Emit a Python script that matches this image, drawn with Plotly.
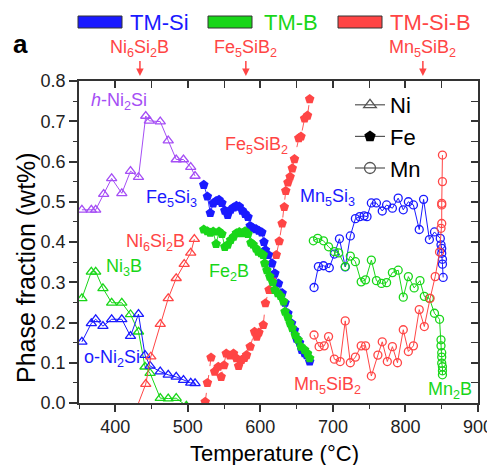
import plotly.graph_objects as go

# ---------------- data ----------------
# Ni system (triangles)
h_ni2si_T = [354, 367, 373, 384, 395, 409, 421, 432, 442, 447, 462, 473, 484, 494, 504, 510]
h_ni2si_f = [0.480, 0.480, 0.480, 0.519, 0.558, 0.521, 0.576, 0.561, 0.713, 0.701, 0.699, 0.652, 0.605, 0.605, 0.586, 0.564]

ni3b_T = [354, 367, 373, 383, 395, 409, 421, 432, 441, 448, 462, 473, 484, 498]
ni3b_f = [0.260, 0.326, 0.326, 0.285, 0.249, 0.249, 0.220, 0.177, 0.090, 0.074, 0.012, 0.011, 0.012, -0.007]

o_ni2si_T = [354, 367, 373, 383, 395, 409, 421, 432, 441, 448, 462, 473, 484, 494, 504, 510]
o_ni2si_f = [0.152, 0.198, 0.208, 0.191, 0.208, 0.208, 0.166, 0.221, 0.119, 0.092, 0.078, 0.070, 0.065, 0.057, 0.050, 0.049]

ni6si2b_T = [428, 442, 449, 462, 473, 484, 495, 504, 509]
ni6si2b_f = [-0.019, 0.047, 0.115, 0.196, 0.260, 0.310, 0.345, 0.373, 0.407]

# Fe system (pentagons)
fe5si3_T = [522, 527, 531, 535, 539, 543, 547, 551, 555, 559, 563, 567, 571, 575, 579, 583, 586, 590, 594, 598,
            602, 605, 607, 611, 616, 620, 625, 630, 634, 638, 643, 647, 650, 654, 657, 661, 664, 668]
fe5si3_f = [0.542, 0.513, 0.472, 0.496, 0.502, 0.505, 0.497, 0.478, 0.467, 0.480, 0.486, 0.490, 0.488, 0.478,
            0.470, 0.462, 0.440, 0.434, 0.432, 0.428, 0.424, 0.400, 0.380, 0.368, 0.347, 0.322, 0.297, 0.273,
            0.249, 0.223, 0.198, 0.181, 0.160, 0.150, 0.132, 0.124, 0.119, 0.103]

fe2b_T = [522, 527, 531, 535, 539, 543, 547, 551, 555, 559, 563, 567, 571, 575, 579, 583, 587, 590, 594, 597,
          601, 604, 606, 609, 613, 617, 620, 624, 628, 632, 634, 638, 641, 644, 648, 652, 656, 661, 665, 668]
fe2b_f = [0.431, 0.427, 0.423, 0.426, 0.395, 0.426, 0.420, 0.388, 0.393, 0.405, 0.413, 0.422, 0.425, 0.422,
          0.427, 0.420, 0.398, 0.394, 0.384, 0.376, 0.372, 0.368, 0.347, 0.330, 0.314, 0.300, 0.281, 0.273,
          0.266, 0.252, 0.227, 0.213, 0.198, 0.186, 0.169, 0.157, 0.140, 0.132, 0.123, 0.111]

fe5sib2_T = [524, 527, 532, 537, 542, 546, 550, 553, 558, 563, 567, 570, 574, 578, 581, 586, 592, 595, 598, 604,
             607, 612, 616, 622, 626, 630, 633, 635, 638, 641, 644, 647, 653, 656, 661, 665, 668]
fe5sib2_f = [0.003, 0.050, 0.113, 0.078, 0.090, 0.065, 0.094, 0.123, 0.118, 0.123, 0.111, 0.092, 0.107, 0.112,
             0.119, 0.140, 0.177, 0.165, 0.175, 0.194, 0.248, 0.281, 0.310, 0.368, 0.402, 0.446, 0.487, 0.527,
             0.548, 0.562, 0.583, 0.606, 0.658, 0.662, 0.707, 0.714, 0.755]

# Mn system (circles)
mn5si3_T = [674, 680, 687, 695, 702, 709, 717, 724, 731, 737, 743, 747, 753, 760, 768, 774, 782, 790, 797, 804,
            811, 819, 825, 833, 840, 848, 849, 850, 850, 851, 851, 852]
mn5si3_f = [0.287, 0.339, 0.341, 0.336, 0.370, 0.408, 0.338, 0.415, 0.458, 0.463, 0.465, 0.463, 0.497, 0.497,
            0.477, 0.492, 0.484, 0.509, 0.480, 0.500, 0.492, 0.431, 0.506, 0.406, 0.425, 0.409, 0.393, 0.384,
            0.372, 0.357, 0.345, 0.312]

mn2b_T = [673, 679, 687, 694, 702, 708, 717, 724, 731, 739, 745, 753, 760, 767, 774, 782, 790, 797, 804, 812,
          820, 826, 833, 840, 847, 849, 849, 850, 850, 850, 851, 851, 851]
mn2b_f = [0.403, 0.409, 0.403, 0.388, 0.376, 0.373, 0.339, 0.365, 0.351, 0.301, 0.306, 0.355, 0.304, 0.297,
          0.299, 0.324, 0.330, 0.263, 0.314, 0.286, 0.304, 0.265, 0.260, 0.223, 0.208, 0.157, 0.142, 0.125,
          0.114, 0.099, 0.090, 0.080, 0.070]

mn5sib2_T = [674, 681, 688, 694, 702, 710, 717, 724, 731, 739, 745, 753, 762, 768, 775, 782, 789, 797, 804, 811,
             819, 826, 834, 841, 847, 849, 850, 850, 850, 851, 851]
mn5sib2_f = [0.169, 0.140, 0.142, 0.165, 0.109, 0.103, 0.204, 0.100, 0.114, 0.142, 0.142, 0.067, 0.119, 0.152,
             0.103, 0.140, 0.100, 0.182, 0.128, 0.142, 0.232, 0.190, 0.260, 0.314, 0.375, 0.434, 0.446, 0.492,
             0.496, 0.550, 0.616]

x_ticks = [400, 500, 600, 700, 800, 900]
y_ticks = [0.0, 0.1, 0.2, 0.3, 0.4, 0.5, 0.6, 0.7, 0.8]

# ---------------- style ----------------
FONT = "Liberation Sans, Arial, sans-serif"
BLUE = "#1a1aff"
GREEN = "#19d619"
RED = "#ff4545"
PURPLE = "#a54ef5"
AX = "#333333"

# the page body adds an 8px offset, so the figure is 8px smaller and margins shifted
OFF = 8
PL, PT, PWID, PHGT = 79, 81, 399, 322          # plot area in window pixels
W_FIG, H_FIG = 495 - OFF, 465 - OFF
ML, MT = PL - OFF, PT - OFF
MR = W_FIG - ML - PWID
MB = H_FIG - MT - PHGT


def pxx(p):
    return (p - PL) / PWID


def pxy(p):
    return (PT + PHGT - p) / PHGT


fig = go.Figure()


def add(T, f, color, symbol, size, lw=1.0, dash="solid", filled=False):
    marker = dict(symbol=symbol, size=size, color=color,
                  line=dict(color=color, width=1.3 if not filled else 0))
    fig.add_trace(go.Scatter(x=T, y=f, mode="lines+markers",
                             line=dict(color=color, width=lw, dash=dash),
                             marker=marker, showlegend=False))


add(h_ni2si_T, h_ni2si_f, PURPLE, "triangle-up-open", 9)
add(ni3b_T, ni3b_f, GREEN, "triangle-up-open", 9)
add(o_ni2si_T, o_ni2si_f, BLUE, "triangle-up-open", 9)
add(ni6si2b_T, ni6si2b_f, RED, "triangle-up-open", 9)

add(fe5sib2_T, fe5sib2_f, RED, "pentagon", 10, lw=0.9, dash="dash", filled=True)
add(fe5si3_T, fe5si3_f, BLUE, "pentagon", 10, lw=0.9, filled=True)
add(fe2b_T, fe2b_f, GREEN, "pentagon", 10, lw=0.9, filled=True)

add(mn5si3_T, mn5si3_f, BLUE, "circle-open", 8)
add(mn2b_T, mn2b_f, GREEN, "circle-open", 8)
add(mn5sib2_T, mn5sib2_f, RED, "circle-open", 8)

# element legend
GR = "#555555"
fig.add_trace(go.Scatter(x=[None], y=[None], mode="lines+markers", name="Ni",
                         line=dict(color=GR, width=1.2),
                         marker=dict(symbol="triangle-up-open", size=11, color=GR, line=dict(width=1.3))))
fig.add_trace(go.Scatter(x=[None], y=[None], mode="lines+markers", name="Fe",
                         line=dict(color=GR, width=1.2),
                         marker=dict(symbol="pentagon", size=12, color="black", line=dict(width=0))))
fig.add_trace(go.Scatter(x=[None], y=[None], mode="lines+markers", name="Mn",
                         line=dict(color=GR, width=1.2),
                         marker=dict(symbol="circle-open", size=11, color=GR, line=dict(width=1.3))))

# dummy trace for mirrored (inward) top/right axes
fig.add_trace(go.Scatter(x=[None], y=[None], xaxis="x2", yaxis="y2", showlegend=False, hoverinfo="skip"))

tickfont = dict(family=FONT, size=18, color="#222222")
fig.update_layout(
    width=W_FIG, height=H_FIG,
    margin=dict(l=ML, r=MR, t=MT, b=MB, autoexpand=False),
    paper_bgcolor="white", plot_bgcolor="white",
    font=dict(family=FONT, color="#222222"),
    xaxis=dict(range=[350, 900], tickvals=x_ticks, ticks="outside", ticklen=7, tickwidth=1.5, tickcolor=AX,
               showline=True, linecolor=AX, linewidth=1.5, showgrid=False, zeroline=False,
               tickfont=tickfont, automargin=False,
               minor=dict(dtick=50, tick0=350, ticks="outside", ticklen=4, tickwidth=1.3, tickcolor=AX)),
    yaxis=dict(range=[0, 0.8], tickvals=y_ticks, tickformat=".1f", ticks="outside", ticklen=8, tickwidth=1.5,
               tickcolor=AX, showline=True, linecolor=AX, linewidth=1.5, showgrid=False, zeroline=False,
               tickfont=tickfont, automargin=False,
               minor=dict(dtick=0.05, tick0=0, ticks="outside", ticklen=4, tickwidth=1.3, tickcolor=AX)),
    xaxis2=dict(range=[350, 900], overlaying="x", side="top", tickvals=x_ticks, ticks="inside", ticklen=7,
                tickwidth=1.5, tickcolor=AX, showticklabels=False, showline=True, linecolor=AX, linewidth=1.5,
                showgrid=False, zeroline=False,
                minor=dict(dtick=50, tick0=350, ticks="inside", ticklen=7, tickwidth=1.3, tickcolor=AX)),
    yaxis2=dict(range=[0, 0.8], overlaying="y", side="right", tickvals=y_ticks, ticks="inside", ticklen=7,
                tickwidth=1.5, tickcolor=AX, showticklabels=False, showline=True, linecolor=AX, linewidth=1.5,
                showgrid=False, zeroline=False,
                minor=dict(dtick=0.05, tick0=0, ticks="inside", ticklen=7, tickwidth=1.3, tickcolor=AX)),
    legend=dict(x=pxx(350), y=pxy(84), xanchor="left", yanchor="top", bgcolor="rgba(0,0,0,0)",
                font=dict(family=FONT, size=22, color="black"), tracegroupgap=0),
)

ann = []
# axis titles
ann.append(dict(text="Temperature (°C)", xref="paper", yref="paper", x=pxx(274), y=pxy(454),
                showarrow=False, font=dict(family=FONT, size=22, color="black"), xanchor="center", yanchor="middle"))
ann.append(dict(text="Phase fraction (wt%)", xref="paper", yref="paper", x=pxx(26), y=pxy(268), textangle=-90,
                showarrow=False, font=dict(family=FONT, size=25, color="black"), xanchor="center", yanchor="middle"))
# panel letter
ann.append(dict(text="<b>a</b>", xref="paper", yref="paper", x=pxx(20), y=pxy(44), showarrow=False,
                font=dict(family=FONT, size=26, color="black"), xanchor="center", yanchor="middle"))

# in-plot phase labels
labels = [
    ("<i>h</i>-Ni<sub>2</sub>Si", 405, 0.748, PURPLE),
    ("Fe<sub>5</sub>Si<sub>3</sub>", 478, 0.507, BLUE),
    ("Ni<sub>6</sub>Si<sub>2</sub>B", 456, 0.400, RED),
    ("Ni<sub>3</sub>B", 412, 0.336, GREEN),
    ("Fe<sub>2</sub>B", 557, 0.323, GREEN),
    ("o-Ni<sub>2</sub>Si", 395, 0.110, BLUE),
    ("Fe<sub>5</sub>SiB<sub>2</sub>", 594, 0.639, RED),
    ("Mn<sub>5</sub>Si<sub>3</sub>", 693, 0.510, BLUE),
    ("Mn<sub>5</sub>SiB<sub>2</sub>", 692, 0.043, RED),
    ("Mn<sub>2</sub>B", 861, 0.030, GREEN),
]
for t, x, y, c in labels:
    ann.append(dict(text=t, x=x, y=y, xref="x", yref="y", showarrow=False,
                    font=dict(family=FONT, size=18, color=c), xanchor="center", yanchor="middle"))

# top arrows marking ternary phases
tops = [("Ni<sub>6</sub>Si<sub>2</sub>B", 434), ("Fe<sub>5</sub>SiB<sub>2</sub>", 580), ("Mn<sub>5</sub>SiB<sub>2</sub>", 824)]
for t, x in tops:
    ann.append(dict(text=t, x=x, y=pxy(76), xref="x", yref="paper", showarrow=True, ax=0, ay=-28,
                    arrowhead=2, arrowsize=1, arrowwidth=1.5, arrowcolor=RED,
                    font=dict(family=FONT, size=18, color=RED)))

# colour key for phase type
shapes = []
keys = [("TM-Si", BLUE, 78, 122, 128), ("TM-B", GREEN, 208, 252, 262), ("TM-Si-B", RED, 338, 382, 388)]
for name, c, x0, x1, xt in keys:
    shapes.append(dict(type="rect", xref="paper", yref="paper", x0=pxx(x0), x1=pxx(x1), y0=pxy(28), y1=pxy(16),
                       fillcolor=c, line=dict(color="#333333", width=1)))
    ann.append(dict(text=name, xref="paper", yref="paper", x=pxx(xt), y=pxy(22), showarrow=False,
                    xanchor="left", yanchor="middle", font=dict(family=FONT, size=22, color=c)))

fig.update_layout(annotations=ann, shapes=shapes)
fig.write_html("out.html")
